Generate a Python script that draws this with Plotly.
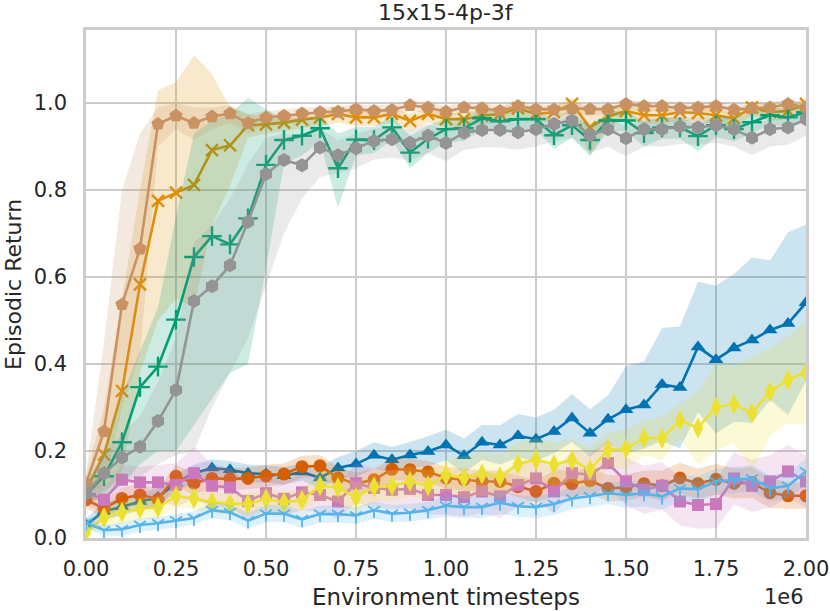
import plotly.graph_objects as go

# x positions: environment timesteps (every 50k steps, 0 .. 2e6)
timesteps = [i * 50000 for i in range(41)]

x_tickvals = [0, 250000, 500000, 750000, 1000000, 1250000, 1500000, 1750000, 2000000]
x_ticktext = ["0.00", "0.25", "0.50", "0.75", "1.00", "1.25", "1.50", "1.75", "2.00"]
y_tickvals = [0.0, 0.2, 0.4, 0.6, 0.8, 1.0]

# ---- series means ----
blue_tri = [0.030, 0.061, 0.072, 0.084, 0.093, 0.126, 0.149, 0.161, 0.157, 0.149,
            0.147, 0.143, 0.152, 0.138, 0.161, 0.170, 0.190, 0.180, 0.191, 0.199,
            0.214, 0.189, 0.220, 0.214, 0.235, 0.227, 0.245, 0.276, 0.241, 0.273,
            0.295, 0.306, 0.353, 0.346, 0.439, 0.410, 0.437, 0.455, 0.478, 0.493, 0.541]
blue_spread = [0.015, 0.02, 0.02, 0.02, 0.02, 0.02, 0.02, 0.02, 0.02, 0.02,
               0.02, 0.02, 0.02, 0.025, 0.025, 0.03, 0.03, 0.03, 0.03, 0.035,
               0.035, 0.04, 0.04, 0.045, 0.05, 0.05, 0.05, 0.055, 0.055, 0.055,
               0.10, 0.10, 0.13, 0.14, 0.15, 0.17, 0.17, 0.19, 0.16, 0.21, 0.18]

orange_x = [0.110, 0.192, 0.338, 0.583, 0.775, 0.794, 0.812, 0.892, 0.903, 0.949,
            0.951, 0.955, 0.962, 0.967, 0.975, 0.967, 0.967, 0.975, 0.959, 0.975,
            0.963, 0.963, 0.971, 0.975, 0.988, 0.975, 0.979, 0.998, 0.944, 0.969,
            0.982, 0.972, 0.972, 0.979, 0.977, 0.972, 0.965, 0.990, 0.979, 0.982, 0.998]
orange_upper = [0.14, 0.30, 0.55, 0.80, 1.03, 1.048, 1.11, 1.067, 0.99, 0.975,
                0.968, 0.970, 0.977, 0.982, 0.990, 0.982, 0.982, 0.990, 0.975, 0.990,
                0.978, 0.978, 0.986, 0.990, 1.002, 0.990, 0.994, 1.010, 0.985, 0.985,
                0.996, 0.987, 0.987, 0.994, 0.992, 0.987, 0.980, 1.004, 0.994, 0.996, 1.010]
orange_lower = [0.08, 0.10, 0.15, 0.38, 0.50, 0.55, 0.53, 0.72, 0.81, 0.92,
                0.93, 0.935, 0.942, 0.947, 0.955, 0.947, 0.947, 0.955, 0.935, 0.955,
                0.943, 0.943, 0.951, 0.955, 0.968, 0.955, 0.959, 0.978, 0.880, 0.945,
                0.962, 0.952, 0.952, 0.959, 0.957, 0.952, 0.945, 0.970, 0.959, 0.962, 0.978]

green_plus = [0.100, 0.142, 0.220, 0.347, 0.394, 0.502, 0.646, 0.694, 0.675, 0.735,
              0.858, 0.915, 0.925, 0.942, 0.850, 0.916, 0.915, 0.944, 0.886, 0.918,
              0.940, 0.942, 0.965, 0.958, 0.963, 0.963, 0.926, 0.949, 0.915, 0.960,
              0.960, 0.931, 0.944, 0.944, 0.924, 0.949, 0.940, 0.956, 0.972, 0.967, 0.979]
green_upper = [0.12, 0.20, 0.33, 0.43, 0.53, 0.74, 0.93, 0.96, 0.975, 1.013,
               0.985, 0.965, 0.965, 0.970, 0.930, 0.945, 0.945, 0.970, 0.925, 0.948,
               0.965, 0.968, 0.985, 0.980, 0.985, 0.985, 0.955, 0.975, 0.945, 0.982,
               0.982, 0.958, 0.968, 0.968, 0.950, 0.972, 0.965, 0.978, 0.990, 0.987, 0.995]
green_lower = [0.08, 0.09, 0.12, 0.17, 0.20, 0.20, 0.26, 0.32, 0.38, 0.40,
               0.62, 0.86, 0.88, 0.91, 0.76, 0.88, 0.885, 0.915, 0.850, 0.885,
               0.910, 0.912, 0.940, 0.932, 0.938, 0.938, 0.895, 0.920, 0.878, 0.935,
               0.935, 0.900, 0.918, 0.918, 0.890, 0.922, 0.912, 0.930, 0.950, 0.945, 0.960]

verm_circle = [0.088, 0.068, 0.091, 0.099, 0.089, 0.142, 0.126, 0.137, 0.136, 0.137,
               0.143, 0.147, 0.164, 0.166, 0.138, 0.125, 0.134, 0.158, 0.157, 0.152,
               0.138, 0.134, 0.130, 0.130, 0.118, 0.107, 0.126, 0.125, 0.132, 0.114,
               0.116, 0.125, 0.120, 0.138, 0.125, 0.135, 0.126, 0.127, 0.104, 0.097, 0.097]
verm_spread = [0.02, 0.02, 0.025, 0.025, 0.025, 0.025, 0.025, 0.025, 0.025, 0.025,
               0.025, 0.025, 0.025, 0.025, 0.025, 0.025, 0.025, 0.025, 0.025, 0.025,
               0.025, 0.025, 0.025, 0.025, 0.025, 0.025, 0.03, 0.03, 0.03, 0.03,
               0.03, 0.03, 0.035, 0.035, 0.035, 0.035, 0.035, 0.035, 0.035, 0.03, 0.03]

pink_square = [0.105, 0.088, 0.134, 0.128, 0.128, 0.122, 0.149, 0.120, 0.116, 0.085,
               0.103, 0.090, 0.105, 0.099, 0.084, 0.126, 0.115, 0.111, 0.113, 0.099,
               0.099, 0.094, 0.107, 0.096, 0.122, 0.137, 0.107, 0.149, 0.146, 0.172,
               0.130, 0.111, 0.120, 0.084, 0.076, 0.078, 0.137, 0.120, 0.130, 0.153, 0.130]
pink_spread = [0.03, 0.03, 0.035, 0.035, 0.04, 0.05, 0.06, 0.05, 0.045, 0.04,
               0.04, 0.04, 0.04, 0.04, 0.04, 0.045, 0.045, 0.045, 0.045, 0.045,
               0.045, 0.045, 0.05, 0.05, 0.05, 0.05, 0.05, 0.05, 0.05, 0.055,
               0.055, 0.055, 0.055, 0.055, 0.055, 0.055, 0.06, 0.06, 0.06, 0.06, 0.06]

tan_pent = [0.125, 0.245, 0.537, 0.665, 0.952, 0.971, 0.954, 0.969, 0.976, 0.954,
            0.967, 0.971, 0.976, 0.979, 0.980, 0.986, 0.982, 0.984, 0.995, 0.990,
            0.980, 0.990, 0.988, 0.982, 0.993, 0.986, 0.985, 0.988, 0.986, 0.986,
            0.998, 0.993, 0.993, 0.988, 0.990, 0.993, 0.985, 0.988, 0.990, 0.998, 0.990]
tan_upper = [0.15, 0.45, 0.80, 0.93, 0.99, 1.00, 0.99, 0.99, 0.995, 0.975,
             0.982, 0.985, 0.990, 0.992, 0.993, 0.998, 0.995, 0.997, 1.005, 1.002,
             0.993, 1.002, 1.000, 0.995, 1.004, 0.998, 0.997, 1.000, 0.998, 0.998,
             1.008, 1.004, 1.004, 1.000, 1.002, 1.004, 0.997, 1.000, 1.002, 1.008, 1.002]
tan_lower = [0.10, 0.12, 0.30, 0.42, 0.90, 0.94, 0.915, 0.94, 0.955, 0.93,
             0.950, 0.955, 0.960, 0.964, 0.965, 0.972, 0.967, 0.970, 0.982, 0.976,
             0.965, 0.976, 0.973, 0.967, 0.980, 0.972, 0.970, 0.973, 0.972, 0.972,
             0.986, 0.980, 0.980, 0.973, 0.976, 0.980, 0.970, 0.973, 0.976, 0.986, 0.976]

gray_hex = [0.103, 0.149, 0.185, 0.210, 0.269, 0.340, 0.545, 0.579, 0.627, 0.727,
            0.837, 0.869, 0.857, 0.898, 0.880, 0.896, 0.913, 0.917, 0.909, 0.925,
            0.908, 0.932, 0.938, 0.938, 0.933, 0.940, 0.952, 0.960, 0.926, 0.940,
            0.919, 0.940, 0.940, 0.946, 0.944, 0.949, 0.940, 0.920, 0.940, 0.944, 0.963]
gray_upper = [0.13, 0.19, 0.24, 0.28, 0.36, 0.46, 0.68, 0.72, 0.78, 0.86,
              0.92, 0.93, 0.92, 0.94, 0.915, 0.928, 0.942, 0.945, 0.938, 0.952,
              0.938, 0.958, 0.962, 0.962, 0.958, 0.964, 0.974, 0.980, 0.952, 0.964,
              0.946, 0.964, 0.964, 0.968, 0.967, 0.970, 0.964, 0.946, 0.964, 0.967, 0.982]
gray_lower = [0.08, 0.11, 0.13, 0.14, 0.17, 0.19, 0.20, 0.30, 0.38, 0.46,
              0.58, 0.70, 0.78, 0.83, 0.84, 0.85, 0.87, 0.875, 0.868, 0.885,
              0.866, 0.892, 0.898, 0.898, 0.893, 0.900, 0.912, 0.920, 0.886, 0.900,
              0.878, 0.900, 0.900, 0.906, 0.904, 0.909, 0.900, 0.880, 0.900, 0.904, 0.925]

yellow_diamond = [0.014, 0.047, 0.059, 0.068, 0.070, 0.096, 0.091, 0.082, 0.079, 0.078,
                  0.090, 0.082, 0.087, 0.120, 0.116, 0.093, 0.118, 0.120, 0.130, 0.120,
                  0.145, 0.138, 0.147, 0.141, 0.170, 0.180, 0.169, 0.179, 0.157, 0.203,
                  0.205, 0.230, 0.229, 0.270, 0.253, 0.301, 0.308, 0.287, 0.336, 0.364, 0.381]
yellow_spread = [0.015, 0.02, 0.025, 0.025, 0.025, 0.025, 0.025, 0.025, 0.025, 0.025,
                 0.025, 0.025, 0.025, 0.035, 0.035, 0.035, 0.035, 0.035, 0.035, 0.035,
                 0.035, 0.05, 0.05, 0.05, 0.05, 0.05, 0.05, 0.05, 0.05, 0.04,
                 0.045, 0.04, 0.05, 0.04, 0.085, 0.10, 0.09, 0.13, 0.10, 0.10, 0.12]

lightblue_tri = [0.035, 0.018, 0.020, 0.030, 0.034, 0.040, 0.046, 0.064, 0.059, 0.040,
                 0.056, 0.056, 0.043, 0.055, 0.055, 0.052, 0.064, 0.056, 0.058, 0.064,
                 0.074, 0.071, 0.071, 0.081, 0.073, 0.071, 0.078, 0.091, 0.096, 0.103,
                 0.099, 0.103, 0.095, 0.114, 0.112, 0.130, 0.134, 0.137, 0.114, 0.120, 0.153]
lightblue_spread = [0.012, 0.012, 0.015, 0.015, 0.015, 0.015, 0.015, 0.018, 0.018, 0.018,
                    0.02, 0.02, 0.02, 0.02, 0.02, 0.02, 0.02, 0.02, 0.02, 0.02,
                    0.025, 0.025, 0.025, 0.025, 0.025, 0.025, 0.025, 0.025, 0.025, 0.025,
                    0.03, 0.03, 0.03, 0.03, 0.03, 0.03, 0.03, 0.03, 0.03, 0.03, 0.03]


def sym(mean, spread):
    return [m + s for m, s in zip(mean, spread)], [m - s for m, s in zip(mean, spread)]


def rgba(hexc, a):
    h = hexc.lstrip("#")
    return "rgba(%d,%d,%d,%.2f)" % (int(h[0:2], 16), int(h[2:4], 16), int(h[4:6], 16), a)


bu, bl = sym(blue_tri, blue_spread)
vu, vl = sym(verm_circle, verm_spread)
pu, pl = sym(pink_square, pink_spread)
yu, yl = sym(yellow_diamond, yellow_spread)
lu, ll = sym(lightblue_tri, lightblue_spread)

series = [
    dict(y=blue_tri, up=bu, lo=bl, color="#0173b2", symbol="triangle-up", size=13, lw=0),
    dict(y=orange_x, up=orange_upper, lo=orange_lower, color="#de8f05", symbol="x-thin", size=12, lw=2.4),
    dict(y=green_plus, up=green_upper, lo=green_lower, color="#029e73", symbol="cross-thin", size=14, lw=2.4),
    dict(y=verm_circle, up=vu, lo=vl, color="#d55e00", symbol="circle", size=13, lw=0),
    dict(y=pink_square, up=pu, lo=pl, color="#cc78bc", symbol="square", size=12, lw=0),
    dict(y=tan_pent, up=tan_upper, lo=tan_lower, color="#ca9161", symbol="pentagon", size=14, lw=0),
    dict(y=gray_hex, up=gray_upper, lo=gray_lower, color="#949494", symbol="hexagon", size=14, lw=0),
    dict(y=yellow_diamond, up=yu, lo=yl, color="#ece133", symbol="diamond-tall", size=15, lw=0),
    dict(y=lightblue_tri, up=lu, lo=ll, color="#56b4e9", symbol="y-down-open", size=10, lw=1.8),
]

fig = go.Figure()
for s in series:
    fig.add_trace(go.Scatter(
        x=timesteps + timesteps[::-1],
        y=s["up"] + s["lo"][::-1],
        fill="toself", fillcolor=rgba(s["color"], 0.2),
        line=dict(width=0, color="rgba(0,0,0,0)"),
        mode="lines", hoverinfo="skip", showlegend=False,
    ))
    fig.add_trace(go.Scatter(
        x=timesteps, y=s["y"], mode="lines+markers",
        line=dict(color=s["color"], width=2.6),
        marker=dict(symbol=s["symbol"], size=s["size"], color=s["color"],
                    line=dict(width=s["lw"], color=s["color"])),
        showlegend=False,
    ))

txt = "#262626"
font_family = "DejaVu Sans"

fig.update_layout(
    width=830, height=611,
    margin=dict(l=86, r=24, t=30, b=73),
    paper_bgcolor="white", plot_bgcolor="white",
    font=dict(family=font_family, color=txt, size=21),
    showlegend=False,
)
fig.update_xaxes(
    range=[0, 2000000], tickvals=x_tickvals, ticktext=x_ticktext,
    showgrid=True, gridcolor="#cccccc", gridwidth=1.6,
    showline=True, mirror=True, linecolor="#cccccc", linewidth=2.5,
    zeroline=False, ticks="outside", ticklen=10, tickcolor="rgba(0,0,0,0)",
    tickfont=dict(size=21, color=txt, family=font_family), automargin=False,
)
fig.update_yaxes(
    range=[0, 1.168], tickvals=y_tickvals, tickformat=".1f",
    showgrid=True, gridcolor="#cccccc", gridwidth=1.6,
    showline=True, mirror=True, linecolor="#cccccc", linewidth=2.5,
    zeroline=False, ticks="outside", ticklen=12, tickcolor="rgba(0,0,0,0)",
    tickfont=dict(size=21, color=txt, family=font_family), automargin=False,
)

fig.add_annotation(text="15x15-4p-3f", xref="paper", yref="paper", x=0.5, y=1.034,
                   xanchor="center", yanchor="middle", showarrow=False,
                   font=dict(size=22, color=txt, family=font_family))
fig.add_annotation(text="Environment timesteps", xref="paper", yref="paper", x=0.5, y=-0.116,
                   xanchor="center", yanchor="middle", showarrow=False,
                   font=dict(size=23, color=txt, family=font_family))
fig.add_annotation(text="1e6", xref="paper", yref="paper", x=1.0, y=-0.116,
                   xanchor="right", yanchor="middle", showarrow=False,
                   font=dict(size=21, color=txt, family=font_family))
fig.add_annotation(text="Episodic Return", xref="paper", yref="paper", x=-0.1015, y=0.5,
                   xanchor="center", yanchor="middle", textangle=-90, showarrow=False,
                   font=dict(size=22, color=txt, family=font_family))

fig.write_html("out.html", config={"displayModeBar": False},
               post_script="document.body.style.margin='0';document.body.style.padding='0';")
